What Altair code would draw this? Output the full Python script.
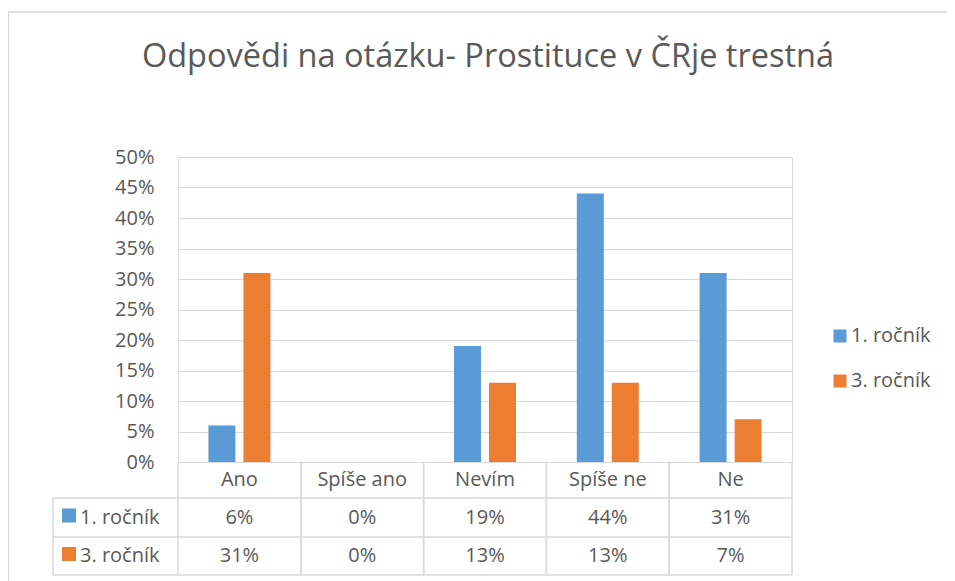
import altair as alt
import pandas as pd

categories = ["Ano", "Spíše ano", "Nevím", "Spíše ne", "Ne"]
series = ["1. ročník", "3. ročník"]
values_1 = [0.06, 0.0, 0.19, 0.44, 0.31]
values_3 = [0.31, 0.0, 0.13, 0.13, 0.07]
colors = ["#5B9BD5", "#ED7D31"]
title_text = "Odpovědi na otázku- Prostituce v ČRje trestná"

rows = []
for s, vals in zip(series, [values_1, values_3]):
    for c, v in zip(categories, vals):
        rows.append({"cat": c, "series": s, "value": v})
df = pd.DataFrame(rows)
cat_df = pd.DataFrame({"cat": categories})
ser_df = pd.DataFrame({"series": series, "col": colors})
one = pd.DataFrame({"title": [title_text]})

TXT = "#595959"
GRID = "#D9D9D9"
FONT = "Open Sans"
W, H = 614, 305

xcat = alt.X("cat:N", sort=categories, scale=alt.Scale(paddingInner=0, paddingOuter=0), axis=None)
color = alt.Color(
    "series:N",
    scale=alt.Scale(domain=series, range=colors),
    legend=alt.Legend(
        title=None, orient="none", legendX=652, legendY=169,
        symbolType="square", symbolSize=169, symbolStrokeWidth=0,
        labelFontSize=20, labelColor=TXT, labelFont=FONT,
        rowPadding=25, labelOffset=1, padding=0,
    ),
)

bars = alt.Chart(df).mark_bar().encode(
    x=xcat,
    xOffset=alt.XOffset("series:N", sort=series,
                        scale=alt.Scale(paddingInner=0.229, paddingOuter=0.869)),
    y=alt.Y("value:Q", scale=alt.Scale(domain=[0, 0.5]),
            axis=alt.Axis(title=None, format=".0%", tickCount=10, grid=True,
                          gridColor=GRID, gridWidth=1, domain=False, ticks=False,
                          tickSize=0, labelPadding=24, labelFontSize=20,
                          labelColor=TXT, labelFont=FONT)),
    color=color,
)

# table structure
vrule_l = alt.Chart(cat_df).mark_rule(color=GRID, strokeWidth=1.5).encode(
    x=alt.X("cat:N", sort=categories, bandPosition=0), y=alt.value(H), y2=alt.value(418))
vrule_r = alt.Chart(cat_df).mark_rule(color=GRID, strokeWidth=1.5).encode(
    x=alt.X("cat:N", sort=categories, bandPosition=1), y=alt.value(H), y2=alt.value(418))
vrule_first = alt.Chart(one).mark_rule(color=GRID, strokeWidth=1.5).encode(
    x=alt.value(-125), y=alt.value(341), y2=alt.value(418))
hrules = [
    alt.Chart(one).mark_rule(color=GRID, strokeWidth=1.5).encode(
        x=alt.value(-125), x2=alt.value(W), y=alt.value(yy))
    for yy in (341, 380, 418)
]

cat_text = alt.Chart(cat_df).mark_text(fontSize=20, color=TXT, font=FONT, baseline="middle").encode(
    x=alt.X("cat:N", sort=categories, bandPosition=0.5), y=alt.value(323), text="cat:N")

row_y = {series[0]: 360.5, series[1]: 399}
row_layers = []
for s, col in zip(series, colors):
    row_layers.append(
        alt.Chart(df).transform_filter(alt.datum.series == s)
        .mark_text(fontSize=20, color=TXT, font=FONT, baseline="middle")
        .encode(x=alt.X("cat:N", sort=categories, bandPosition=0.5), y=alt.value(row_y[s]),
                text=alt.Text("value:Q", format=".0%"))
    )
    row_layers.append(
        alt.Chart(ser_df).transform_filter(alt.datum.series == s)
        .mark_square(filled=True, size=196, opacity=1, color=col)
        .encode(x=alt.value(-109), y=alt.value(row_y[s] - 2))
    )
    row_layers.append(
        alt.Chart(ser_df).transform_filter(alt.datum.series == s)
        .mark_text(fontSize=20, color=TXT, font=FONT, baseline="middle", align="left")
        .encode(x=alt.value(-98), y=alt.value(row_y[s]), text="series:N")
    )

title = alt.Chart(one).mark_text(fontSize=32.5, color=TXT, font=FONT, baseline="alphabetic",
                                 align="center").encode(
    x=alt.value(310), y=alt.value(-90), text="title:N")

frame = [
    alt.Chart(one).mark_rule(color=GRID, strokeWidth=1.5).encode(
        x=alt.value(-169.5), y=alt.value(-145), y2=alt.value(424)),
    alt.Chart(one).mark_rule(color=GRID, strokeWidth=1.5).encode(
        x=alt.value(-170), x2=alt.value(777), y=alt.value(-145)),
]

chart = alt.layer(
    bars, *frame, vrule_l, vrule_r, vrule_first, *hrules, cat_text, *row_layers, title
).properties(
    width=W, height=H,
    autosize=alt.AutoSizeParams(type="none"),
    padding={"left": 170, "top": 149, "right": 155, "bottom": 119},
).configure_view(stroke=None).configure(background="white")

chart.save("out.html", embed_options={"renderer": "svg", "actions": False})
